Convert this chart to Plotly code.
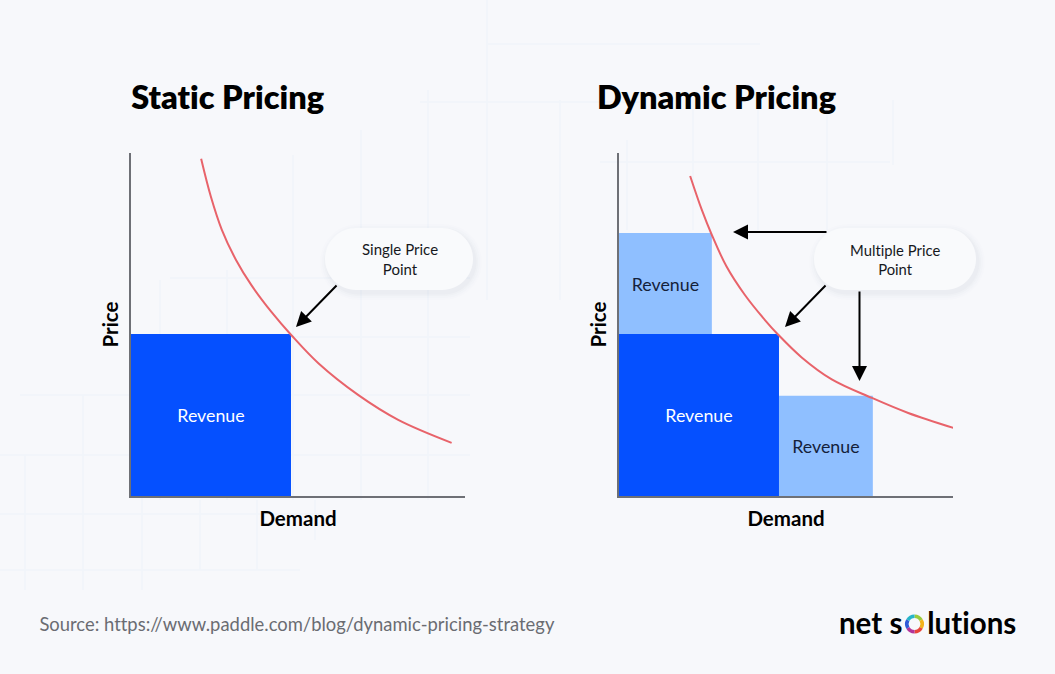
import plotly.graph_objects as go

W, H = 1055, 674
BG = "#F7F8FB"
DARK = "#0550FF"
LIGHT = "#8FBFFF"
CURVE = "#E8636A"
FONT = "Lato"

# ---------- data (axes run 0-100 in arbitrary units) ----------
static_demand = [21.0, 23.9, 27.2, 31.4, 36.1, 42.1, 48.1, 56.1, 68.1, 80.0, 96.0]
static_price = [98.3, 87.3, 77.6, 68.9, 61.4, 53.6, 46.8, 38.7, 29.4, 22.2, 15.5]
dynamic_demand = [21.3, 24.8, 27.8, 32.2, 37.7, 43.7, 47.6, 54.7, 63.7, 75.7, 86.6, 100.6]
dynamic_price = [93.3, 83.4, 76.1, 66.9, 58.6, 51.3, 47.1, 40.4, 34.0, 28.6, 24.2, 19.7]

static_bar_start = [0]
static_bar_width = [47.9]
static_bar_base = [0]
static_bar_height = [47.2]

dynamic_bar_start = [0, 0, 47.9]
dynamic_bar_width = [27.8, 47.9, 28.1]
dynamic_bar_base = [47.2, 0, 0]
dynamic_bar_height = [29.5, 47.2, 29.2]
dynamic_bar_colors = [LIGHT, DARK, LIGHT]
dynamic_text_colors = ["#14213A", "#FFFFFF", "#14213A"]

ring_values = [1, 1, 1, 1, 1, 1]
ring_colors = ["#9ACB3C", "#F2B21B", "#E8443A", "#B2359B", "#2F5BD8", "#27B5C9"]


def px(x):
    return x / W


def py(y):
    return 1 - y / H


def centers(starts, widths):
    return [s + w / 2 for s, w in zip(starts, widths)]


fig = go.Figure()

fig.add_trace(go.Bar(
    x=centers(static_bar_start, static_bar_width), y=static_bar_height,
    width=static_bar_width, base=static_bar_base,
    marker=dict(color=DARK, line=dict(width=0)),
    text=["Revenue"], textposition="inside", insidetextanchor="middle", textangle=0,
    textfont=dict(family=FONT, size=17.8, color="#FFFFFF"),
    constraintext="none", xaxis="x", yaxis="y", showlegend=False, hoverinfo="skip"))
fig.add_trace(go.Scatter(
    x=static_demand, y=static_price, mode="lines", cliponaxis=False,
    line=dict(color=CURVE, width=2, shape="spline", smoothing=1), xaxis="x", yaxis="y",
    showlegend=False, hoverinfo="skip"))

fig.add_trace(go.Bar(
    x=centers(dynamic_bar_start, dynamic_bar_width), y=dynamic_bar_height,
    width=dynamic_bar_width, base=dynamic_bar_base,
    marker=dict(color=dynamic_bar_colors, line=dict(width=0)),
    text=["Revenue"] * 3, textposition="inside", insidetextanchor="middle", textangle=0,
    textfont=dict(family=FONT, size=17.8, color=dynamic_text_colors),
    constraintext="none", xaxis="x2", yaxis="y2", showlegend=False, hoverinfo="skip"))
fig.add_trace(go.Scatter(
    x=dynamic_demand, y=dynamic_price, mode="lines", cliponaxis=False,
    line=dict(color=CURVE, width=2, shape="spline", smoothing=1), xaxis="x2", yaxis="y2",
    showlegend=False, hoverinfo="skip"))

# logo ring
fig.add_trace(go.Pie(
    values=ring_values, marker=dict(colors=ring_colors, line=dict(width=0)),
    hole=0.62, textinfo="none", sort=False, direction="clockwise", showlegend=False, hoverinfo="skip",
    domain=dict(x=[px(905), px(924)], y=[py(633.5), py(614.5)])))


def axis(lo, hi, title, standoff, **kw):
    return dict(domain=[lo, hi], range=[0, 100], showgrid=False, zeroline=False,
                showticklabels=False, ticks="", showline=True, linecolor="#6E7076",
                linewidth=2, title=dict(text=title, font=dict(family=FONT, size=20.5, color="#000000", weight=700),
                                        standoff=standoff), **kw)


ydom = (py(496), py(153))
layout = dict(
    width=W, height=H, margin=dict(l=0, r=0, t=0, b=0), autosize=False,
    paper_bgcolor=BG, plot_bgcolor="rgba(0,0,0,0)", barmode="overlay",
    xaxis=axis(px(131), px(465), "Demand", 14.5, anchor="y"),
    yaxis=axis(*ydom, "Price", 5, anchor="x"),
    xaxis2=axis(px(619), px(953), "Demand", 14.5, anchor="y2"),
    yaxis2=axis(*ydom, "Price", 5, anchor="x2"),
)
fig.update_layout(**layout)


def grid_line(x0, y0, x1, y1):
    fig.add_shape(type="line", xref="paper", yref="paper", layer="below",
                  x0=px(x0), y0=py(y0), x1=px(x1), y1=py(y1),
                  line=dict(color="#F0F4FA", width=1.5))


for x, y0, y1 in [(25, 455, 590), (83, 395, 590), (142, 395, 590), (200, 500, 570), (257, 500, 570),
                  (315, 500, 540), (160, 280, 500), (227, 270, 500), (293, 155, 500), (361, 130, 500),
                  (428, 90, 500), (487, 0, 300), (560, 100, 300), (627, 140, 230), (693, 100, 230),
                  (758, 100, 230), (827, 100, 230), (893, 100, 165)]:
    grid_line(x, y0, x, y1)
for y, x0, x1 in [(278, 170, 470), (337, 170, 470), (395, 20, 470), (455, 0, 470), (514, 0, 320),
                  (570, 0, 300), (162, 600, 890), (102, 420, 640), (44, 488, 760)]:
    grid_line(x0, y, x1, y)


def pill_path(x0, y0, x1, y1, r):
    k = 0.5523 * r
    pts = [
        f"M{px(x0 + r)},{py(y0)}", f"L{px(x1 - r)},{py(y0)}",
        f"C{px(x1 - r + k)},{py(y0)} {px(x1)},{py(y0 + r - k)} {px(x1)},{py(y0 + r)}",
        f"L{px(x1)},{py(y1 - r)}",
        f"C{px(x1)},{py(y1 - r + k)} {px(x1 - r + k)},{py(y1)} {px(x1 - r)},{py(y1)}",
        f"L{px(x0 + r)},{py(y1)}",
        f"C{px(x0 + r - k)},{py(y1)} {px(x0)},{py(y1 - r + k)} {px(x0)},{py(y1 - r)}",
        f"L{px(x0)},{py(y0 + r)}",
        f"C{px(x0)},{py(y0 + r - k)} {px(x0 + r - k)},{py(y0)} {px(x0 + r)},{py(y0)}", "Z",
    ]
    return " ".join(pts)


def bubble(x0, y0, x1, y1):
    r = (y1 - y0) / 2
    for grow, alpha in [(7, 0.008), (5, 0.012), (3, 0.016), (1.5, 0.02)]:
        fig.add_shape(type="path", xref="paper", yref="paper", layer="above",
                      path=pill_path(x0 - grow + 2, y0 - grow + 3, x1 + grow + 2, y1 + grow + 3, r + grow),
                      fillcolor=f"rgba(40,50,80,{alpha})", line=dict(width=0))
    fig.add_shape(type="path", xref="paper", yref="paper", layer="above",
                  path=pill_path(x0, y0, x1, y1, r), fillcolor="#F9FAFC", line=dict(width=0))


bubble(325, 228, 473, 290)
bubble(814, 228, 976, 290)


def text(x, y, s, size, color="#000000", anchor="center", weight=400, family=FONT):
    fig.add_annotation(x=px(x), y=py(y), xref="paper", yref="paper", text=s, showarrow=False,
                       xanchor=anchor, yanchor="middle", align="center",
                       font=dict(family=family, size=size, color=color, weight=weight))


def arrow(x0, y0, x1, y1):
    fig.add_annotation(x=px(x1), y=py(y1), ax=x0 - x1, ay=y0 - y1, xref="paper", yref="paper",
                       axref="pixel", ayref="pixel", text="", showarrow=True, arrowhead=2,
                       arrowsize=1.5, arrowwidth=2, arrowcolor="#000000", standoff=0, startstandoff=0)


text(128.5, 96, "Static Pricing", 32.5, anchor="left", weight=800)
text(594.5, 96, "Dynamic Pricing", 32.5, anchor="left", weight=800)
text(400, 259, "Single Price<br>Point", 15, color="#16181D")
text(895, 259, "Multiple Price<br>Point", 14.8, color="#16181D")
arrow(338, 284, 296, 327)
arrow(827, 284, 785, 327)
arrow(828, 232, 733, 232)
arrow(859.5, 290, 859.5, 381)
text(38, 624, "Source: https://www.paddle.com/blog/dynamic-pricing-strategy", 18.4, color="#6A6C72", anchor="left")
text(904, 622, "net s", 29.5, anchor="right", weight=700)
text(925, 622, "lutions", 29.5, anchor="left", weight=700)

fig.write_html("out.html", config=dict(displayModeBar=False),
               post_script=("document.body.style.margin='0';"
                            "document.querySelectorAll('svg text').forEach(function(t){"
                            "t.style.fontVariantLigatures='none';"
                            "t.style.fontFeatureSettings='\"liga\" 0, \"clig\" 0';"
                            "t.style.letterSpacing='0.01px';});"))
